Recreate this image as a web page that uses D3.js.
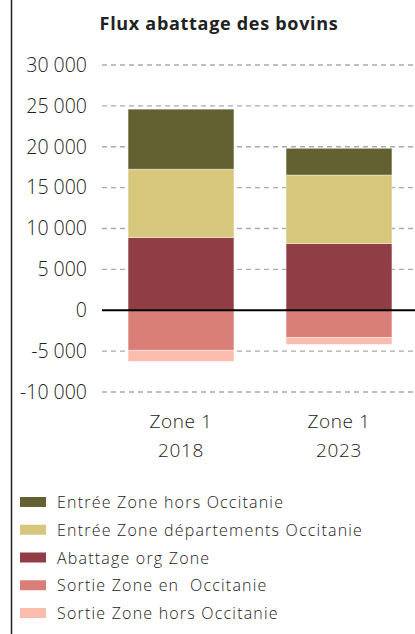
<!DOCTYPE html>
<html><head><meta charset="utf-8">
<script src="https://cdn.jsdelivr.net/npm/d3@7"></script>
<style>
html,body{margin:0;padding:0;background:#fff;}
svg{display:block;}
text{font-family:"Open Sans",Lato,sans-serif;fill:#222;}
</style></head>
<body>
<svg id="c" width="415" height="634"></svg>
<script>
const title = "Flux abattage des bovins";
const zones = ["Zone 1", "Zone 1"];
const years = ["2018", "2023"];
const categories = ["2018", "2023"];
const seriesNames = ["Abattage org Zone", "Entrée Zone départements Occitanie", "Entrée Zone hors Occitanie", "Sortie Zone en  Occitanie", "Sortie Zone hors Occitanie"];
const abattage = [8900, 8170];
const entreeDept = [8350, 8370];
const entreeHors = [7350, 3270];
const sortieEn = [-4900, -3350];
const sortieHors = [-1350, -820];
const colors = ["#913d45", "#d6c77d", "#636131", "#d97f78", "#fabcac"];
const legendOrder = [2, 1, 0, 3, 4];
const yTicks = [-10000, -5000, 0, 5000, 10000, 15000, 20000, 25000, 30000];

const seriesValues = [abattage, entreeDept, entreeHors, sortieEn, sortieHors];
const rows = categories.map((c, i) => {
  const r = {cat: c};
  seriesNames.forEach((s, j) => r[s] = seriesValues[j][i]);
  return r;
});

const svg = d3.select("#c");
const W = 415, H = 634;

const y = d3.scaleLinear().domain([-10000, 30000]).range([392, 65]);
const x = d3.scaleBand().domain(categories).range([102, 418]).paddingInner(0.33).paddingOuter(0.165);

// left border
svg.append("line").attr("x1", 11.5).attr("x2", 11.5).attr("y1", 0).attr("y2", H)
  .attr("stroke", "#222").attr("stroke-width", 1.5);

// title
svg.append("text").attr("x", 219).attr("y", 30).attr("text-anchor", "middle")
  .attr("font-size", 18).attr("font-weight", 700).attr("letter-spacing", 0.7).text(title);

// gridlines
const fmt = v => d3.format(",")(v).replace(/,/g, " ").replace("\u2212", "-");
svg.append("g").selectAll("line").data(yTicks.filter(d => d !== 0)).join("line")
  .attr("x1", 102).attr("x2", W).attr("y1", d => y(d)).attr("y2", d => y(d))
  .attr("stroke", "#aaa").attr("stroke-width", 1.3).attr("stroke-dasharray", "5,4");

// y axis labels
const yAxis = d3.axisLeft(y).tickValues(yTicks).tickSize(0).tickPadding(0).tickFormat(fmt);
const gy = svg.append("g").attr("transform", "translate(87,0)").call(yAxis);
gy.select(".domain").remove();
gy.selectAll("text").attr("font-size", 19.5).attr("font-weight", 300).attr("fill", "#333")
  .style("font-family", "'Open Sans', sans-serif");

// bars
const stack = d3.stack().keys(seriesNames).offset(d3.stackOffsetDiverging);
const stacked = stack(rows);
svg.append("g").selectAll("g").data(stacked).join("g")
  .attr("fill", (d, i) => colors[i])
  .selectAll("rect").data(d => d).join("rect")
  .attr("x", d => x(d.data.cat))
  .attr("width", x.bandwidth())
  .attr("y", d => y(Math.max(d[0], d[1])))
  .attr("height", d => Math.abs(y(d[0]) - y(d[1])))
  .attr("stroke", "rgba(255,255,255,0.5)").attr("stroke-width", 0.8);

// zero line
svg.append("line").attr("x1", 102).attr("x2", W).attr("y1", y(0)).attr("y2", y(0))
  .attr("stroke", "#000").attr("stroke-width", 2);

// x labels
const gx = svg.append("g");
categories.forEach((c, i) => {
  const cx = x(c) + x.bandwidth() / 2;
  gx.append("text").attr("x", cx).attr("y", 428).attr("text-anchor", "middle")
    .attr("font-size", 19).attr("font-weight", 300).attr("letter-spacing", 0.6).attr("fill", "#333").text(zones[i]);
  gx.append("text").attr("x", cx).attr("y", 457).attr("text-anchor", "middle")
    .attr("font-size", 19).attr("font-weight", 300).attr("letter-spacing", 0.6).attr("fill", "#333").text(years[i]);
});

// legend
const lg = svg.append("g");
const ly = d3.scalePoint().domain(legendOrder).range([502, 613]);
legendOrder.forEach((si) => {
  const cy = ly(si);
  lg.append("rect").attr("x", 20).attr("y", cy - 5).attr("width", 26).attr("height", 10).attr("fill", colors[si]);
  lg.append("text").attr("x", 57).attr("y", cy + 6).attr("font-size", 16).attr("font-weight", 300)
    .attr("letter-spacing", 1.2).attr("fill", "#333").style("white-space", "pre").text(seriesNames[si]);
});
</script>
</body></html>
